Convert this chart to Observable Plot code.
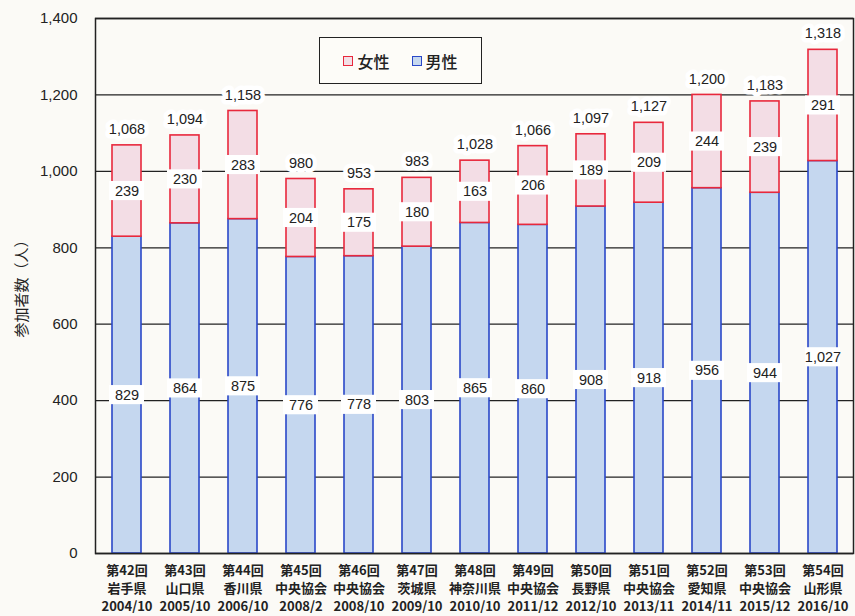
<!DOCTYPE html>
<html>
<head>
<meta charset="utf-8">
<script src="https://cdn.jsdelivr.net/npm/d3@7"></script>
<script src="https://cdn.jsdelivr.net/npm/@observablehq/plot@0.6"></script>
<style>
  html, body { margin: 0; padding: 0; background: #fbfaf6; }
  #wrap { position: relative; width: 855px; height: 616px; }
  #wrap svg { position: absolute; left: 0; top: 0; }
  .legend {
    position: absolute; left: 319px; top: 37px; width: 161px; height: 45px;
    border: 1.6px solid #222; background: #fdfcf8;
    display: flex; align-items: center; justify-content: center; gap: 22px;
    font-family: "Noto Sans CJK JP", sans-serif; font-size: 16px; font-weight: 500; color: #222;
  }
  .legend span { display: inline-flex; align-items: center; gap: 4px; }
  .legend i { display: inline-block; width: 8px; height: 8px; border: 1.5px solid; }
</style>
</head>
<body>
<div id="wrap">
  <div class="legend">
    <span><i style="border-color:#e8283c;background:#f3dfe6"></i>女性</span>
    <span><i style="border-color:#2a48c8;background:#c6d8ef"></i>男性</span>
  </div>
</div>
<script>
// 全国大会 各回の参加者数（男女別）
const rounds = ["第42回","第43回","第44回","第45回","第46回","第47回","第48回","第49回","第50回","第51回","第52回","第53回","第54回"];
const venues = ["岩手県","山口県","香川県","中央協会","中央協会","茨城県","神奈川県","中央協会","長野県","中央協会","愛知県","中央協会","山形県"];
const dates = ["2004/10","2005/10","2006/10","2008/2","2008/10","2009/10","2010/10","2011/12","2012/10","2013/11","2014/11","2015/12","2016/10"];
const male = [829, 864, 875, 776, 778, 803, 865, 860, 908, 918, 956, 944, 1027];
const female = [239, 230, 283, 204, 175, 180, 163, 206, 189, 209, 244, 239, 291];
const yTicks = [0, 200, 400, 600, 800, 1000, 1200, 1400];
const yTitle = "参加者数（人）";

const colors = {
  male: { fill: "#c5d7ef", stroke: "#2a48c8" },
  female: { fill: "#f3dde5", stroke: "#e8283c" }
};

// stacked segments: 男性 at the bottom, 女性 on top
const segments = rounds.flatMap((r, i) => [
  { round: r, y1: 0, y2: male[i], ...colors.male },
  { round: r, y1: male[i], y2: male[i] + female[i], ...colors.female }
]);

const rows = rounds.map((r, i) => ({
  round: r,
  male: male[i],
  female: female[i],
  total: male[i] + female[i],
  maleMid: male[i] / 2,
  femaleMid: male[i] + female[i] / 2
}));

// value labels sit on small white boxes that interrupt grid lines and bar outlines
const boxHalf = 25;
const labelBoxes = rows.flatMap(d => [
  { round: d.round, y1: d.maleMid - boxHalf, y2: d.maleMid + boxHalf },
  { round: d.round, y1: d.femaleMid - boxHalf, y2: d.femaleMid + boxHalf }
]);

const fmt = d => d.toLocaleString("en-US");
const numFont = "'Liberation Sans', Arial, sans-serif";
const labelStyle = { fill: "#222", fontSize: 14.5, fontFamily: numFont };

const chart = Plot.plot({
  width: 855,
  height: 616,
  marginLeft: 95,
  marginRight: 2,
  marginTop: 18,
  marginBottom: 63,
  style: { background: "transparent", fontFamily: numFont, color: "#222" },
  x: { domain: rounds, paddingInner: 0.5, paddingOuter: 0.25, label: null },
  y: { domain: [0, 1400], label: null },
  marks: [
    Plot.ruleY(yTicks, { stroke: "#222", strokeWidth: 1.3 }),
    Plot.barY(segments, { x: "round", y1: "y1", y2: "y2", fill: "fill", stroke: "stroke", strokeWidth: 1.6 }),
    Plot.frame({ stroke: "#222", strokeWidth: 1.5 }),
    Plot.barY(labelBoxes, { x: "round", y1: "y1", y2: "y2", fill: "#ffffff", insetLeft: -3, insetRight: -3 }),
    Plot.text(rows, { x: "round", y: "maleMid", text: d => fmt(d.male), ...labelStyle }),
    Plot.text(rows, { x: "round", y: "femaleMid", text: d => fmt(d.female), ...labelStyle }),
    Plot.text(rows, { x: "round", y: "total", text: d => fmt(d.total), dy: -16, stroke: "#ffffff", strokeWidth: 9, strokeLinejoin: "round", ...labelStyle }),
    Plot.axisY(yTicks, { tickSize: 0, tickPadding: 18, tickFormat: fmt, fontSize: 15, label: null }),
    Plot.text([yTitle], { frameAnchor: "left", textAnchor: "middle", rotate: -90, dx: -73, dy: -1, fontSize: 15, fill: "#222", fontFamily: "'Noto Sans CJK JP', sans-serif" }),
    Plot.axisX({
      tickSize: 0,
      tickPadding: 9,
      tickFormat: d => { const i = rounds.indexOf(d); return `${d}\n${venues[i]}\n${dates[i]}`; },
      fontSize: 13,
      fontWeight: "bold",
      lineHeight: 1.38,
      fontFamily: "'Noto Sans CJK JP', sans-serif",
      label: null
    })
  ]
});

document.getElementById("wrap").prepend(chart);
</script>
</body>
</html>
